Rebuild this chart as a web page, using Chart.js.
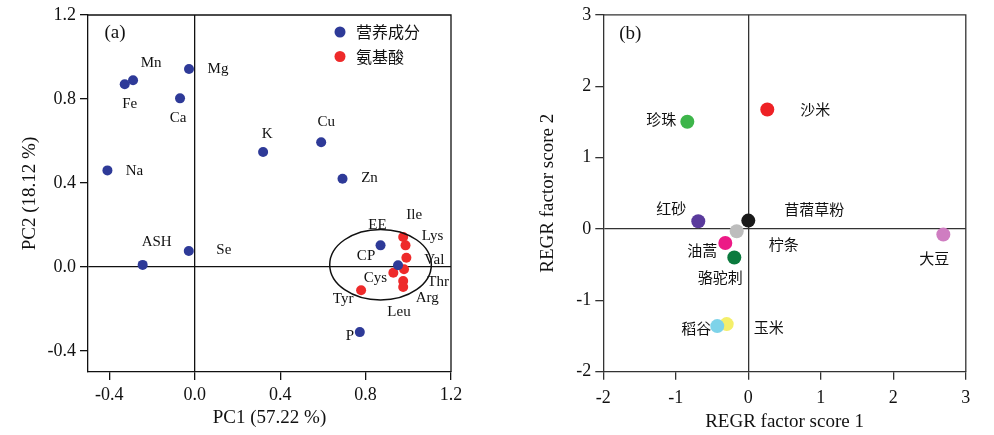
<!DOCTYPE html>
<html><head><meta charset="utf-8">
<script src="https://cdn.jsdelivr.net/npm/chart.js@4/dist/chart.umd.min.js"></script>
<style>
html,body{margin:0;padding:0;background:#fff;width:994px;height:435px;overflow:hidden}
.box{position:absolute;top:0;height:435px}
#wa{left:0;width:480px}
#wb{left:494px;width:500px}
</style></head><body>
<div class="box" id="wa"><canvas id="ca"></canvas></div>
<div class="box" id="wb"><canvas id="cb"></canvas></div>
<script>
// ---------- Panel (a) data ----------
const nutrientNames = ['Mn','Fe','Mg','Ca','Na','K','Cu','Zn','ASH','Se','P','EE','CP'];
const nutrientPC1 = [-0.289,-0.328,-0.027,-0.069,-0.409,0.320,0.592,0.692,-0.244,-0.028,0.773,0.870,0.952];
const nutrientPC2 = [0.889,0.870,0.943,0.803,0.460,0.548,0.594,0.420,0.010,0.076,-0.310,0.103,0.008];
const aminoNames = ['Ile','Lys','Val','Thr','Cys','Arg','Leu','Tyr'];
const aminoPC1 = [0.976,0.987,0.991,0.976,0.930,0.976,0.980,0.779];
const aminoPC2 = [0.143,0.103,0.044,-0.067,-0.027,-0.095,-0.011,-0.111];
const seriesA = ['营养成分','氨基酸'];
const ticksA = [-0.4,0.0,0.4,0.8,1.2];
const ellipseA = {cx:0.870, cy:0.011, rx:0.238, ry:0.168};

// ---------- Panel (b) data ----------
const feedNames = ['珍珠','沙米','红砂','苜蓿草粉','柠条','油蒿','骆驼刺','玉米','稻谷','大豆'];
const score1 = [-0.841,0.262,-0.690,0.000,-0.160,-0.317,-0.193,-0.298,-0.428,2.690];
const score2 = [1.502,1.674,0.108,0.117,-0.032,-0.196,-0.400,-1.333,-1.361,-0.078];
const ticksB = [-2,-1,0,1,2,3];

// ---------- styles / label offsets (px) ----------
const feedColors = ['#3DB54A','#EE2125','#5A3A9C','#1A1A1A','#BDBDBD','#EC1A86','#0B7A3E','#F4EF6A','#7ED3E9','#CF7DC1'];
const nutrientLabelOffsets = [[18,-17],[5,20],[29,0],[-2,20],[27,1],[4,-18],[5,-20],[27,-1],[14,-23],[35,-1],[-10,4],[-3,-20],[-32,-9]];
const aminoLabelOffsets = [[11,-22],[27,-9],[28,2],[35,1],[-18,5],[24,11],[-5,43],[-18,9]];
const feedLabelOffsets = [[-26,-2],[48,0],[-27,-13],[66,-11],[47,13],[-23,7],[-14,20],[42,3],[-21,2],[-9,24]];

const SERIF = "'Liberation Serif','Times New Roman',serif";
const CJK = "'Noto Sans CJK SC','Noto Sans',sans-serif";
Chart.defaults.font.family = SERIF;
Chart.defaults.color = '#111';

const annot = {
  id:'annot',
  afterDatasetsDraw(chart, args, o) {
    const ctx = chart.ctx, ca = chart.chartArea;
    const xs = chart.scales.x, ys = chart.scales.y;
    ctx.save();
    ctx.strokeStyle = o.lineColor; ctx.lineWidth = 1.3;
    ctx.beginPath();
    ctx.moveTo(ca.left, ca.top); ctx.lineTo(ca.right, ca.top); ctx.lineTo(ca.right, ca.bottom);
    ctx.stroke();
    if (o.ellipse) {
      const e = o.ellipse;
      const cx = xs.getPixelForValue(e.cx), cy = ys.getPixelForValue(e.cy);
      const rx = Math.abs(xs.getPixelForValue(e.cx + e.rx) - cx);
      const ry = Math.abs(ys.getPixelForValue(e.cy + e.ry) - cy);
      ctx.strokeStyle = '#111'; ctx.lineWidth = 1.5;
      ctx.beginPath(); ctx.ellipse(cx, cy, rx, ry, 0, 0, Math.PI*2); ctx.stroke();
    }
    // point labels
    ctx.fillStyle = '#111'; ctx.textAlign = 'center'; ctx.textBaseline = 'middle';
    chart.data.datasets.forEach((ds, i) => {
      if (!ds.pointLabels) return;
      ctx.font = ds.labelFont;
      const meta = chart.getDatasetMeta(i);
      meta.data.forEach((pt, j) => {
        const off = ds.labelOffsets[j];
        ctx.fillText(ds.pointLabels[j], pt.x + off[0], pt.y + off[1]);
      });
    });
    // panel tag
    ctx.font = "19px " + SERIF;
    ctx.fillText(o.tag, ca.left + o.tagPos[0], ca.top + o.tagPos[1]);
    // legend
    if (o.legend) {
      chart.data.datasets.forEach((ds, i) => {
        const y = ca.top + o.legend.y0 + i * o.legend.dy;
        const x = ca.right - o.legend.fromRight;
        ctx.fillStyle = ds.backgroundColor;
        ctx.beginPath(); ctx.arc(x, y, 5.5, 0, Math.PI*2); ctx.fill();
        ctx.fillStyle = '#111'; ctx.textAlign = 'left';
        ctx.font = "16px " + CJK;
        ctx.fillText(ds.label, x + 16, y);
      });
    }
    ctx.restore();
  }
};

function axis(opts) {
  const {ticks, fmt, fixed, title, titlePad, pos, lineColor} = opts;
  return {
    type:'linear', position:pos, min:ticks[0] - (opts.below||0), max:ticks[ticks.length-1],
    afterBuildTicks: s => { s.ticks = ticks.map(v => ({value:v})); },
    afterFit: s => { if (pos === 'left') s.width = fixed; else s.height = fixed; },
    ticks:{ font:{size:18, family:SERIF}, color:'#111', padding:(opts.tickPad||4), callback: v => fmt(v) },
    grid:{ drawOnChartArea:true, tickLength:8, lineWidth:1.3, tickColor:lineColor, tickWidth:1.3,
      color: c => (c.tick && c.tick.value === 0) ? lineColor : 'rgba(0,0,0,0)' },
    border:{ display:true, color:lineColor, width:1.3 },
    title:{ display:true, text:title, font:{size:19, family:SERIF}, color:'#111', padding:titlePad }
  };
}

new Chart(document.getElementById('ca'), {
  type:'scatter',
  data:{ datasets:[
    { label:seriesA[0], data:nutrientPC1.map((x,i)=>({x, y:nutrientPC2[i]})), backgroundColor:'#2E3A98',
      pointRadius:5, borderWidth:0, pointLabels:nutrientNames, labelOffsets:nutrientLabelOffsets, labelFont:"15px "+SERIF },
    { label:seriesA[1], data:aminoPC1.map((x,i)=>({x, y:aminoPC2[i]})), backgroundColor:'#EE2A2A',
      pointRadius:5, borderWidth:0, pointLabels:aminoNames, labelOffsets:aminoLabelOffsets, labelFont:"15px "+SERIF }
  ]},
  options:{
    responsive:true, maintainAspectRatio:false, animation:false, events:[],
    layout:{ padding:{left:0, right:29, top:15, bottom:0} },
    scales:{
      x: axis({ticks:ticksA, below:0.1, fmt:v=>v.toFixed(1), fixed:63, title:'PC1 (57.22 %)', titlePad:{top:0,bottom:5.6}, pos:'bottom', lineColor:'#111'}),
      y: axis({ticks:ticksA, below:0.1, fmt:v=>v.toFixed(1), fixed:88, title:'PC2 (18.12 %)', titlePad:{top:18.6,bottom:0}, pos:'left', lineColor:'#111'})
    },
    plugins:{ legend:{display:false}, tooltip:{enabled:false},
      annot:{ lineColor:'#111', ellipse:ellipseA, tag:'(a)', tagPos:[27,18], legend:{fromRight:111, y0:17, dy:24.5} } }
  },
  plugins:[annot]
});

new Chart(document.getElementById('cb'), {
  type:'scatter',
  data:{ datasets:[
    { label:'feeds', data:score1.map((x,i)=>({x, y:score2[i]})), backgroundColor:feedColors,
      pointRadius:7, borderWidth:0, pointLabels:feedNames, labelOffsets:feedLabelOffsets, labelFont:"15px "+CJK }
  ]},
  options:{
    responsive:true, maintainAspectRatio:false, animation:false, events:[],
    layout:{ padding:{left:0, right:28.2, top:14.3, bottom:0} },
    scales:{
      x: axis({ticks:ticksB, tickPad:8, fmt:v=>String(v), fixed:63.3, title:'REGR factor score 1', titlePad:{top:0,bottom:1.9}, pos:'bottom', lineColor:'#333'}),
      y: axis({ticks:ticksB, fmt:v=>String(v), fixed:109.3, title:'REGR factor score 2', titlePad:{top:42.6,bottom:0}, pos:'left', lineColor:'#333'})
    },
    plugins:{ legend:{display:false}, tooltip:{enabled:false},
      annot:{ lineColor:'#333', tag:'(b)', tagPos:[27,19] } }
  },
  plugins:[annot]
});
</script>
</body></html>
